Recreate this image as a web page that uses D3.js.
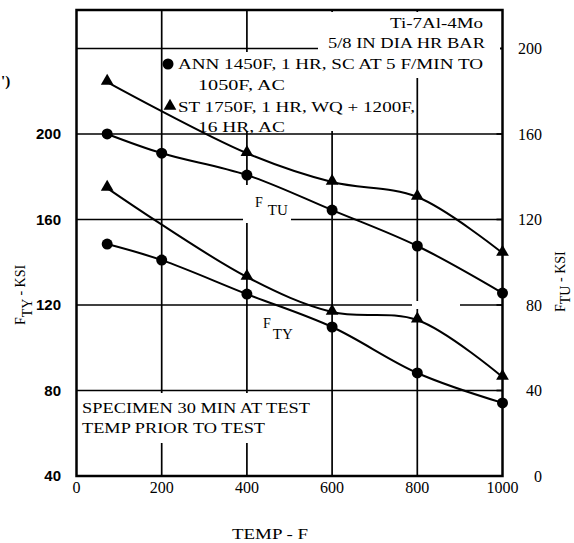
<!DOCTYPE html>
<html><head><meta charset="utf-8">
<script src="https://cdn.jsdelivr.net/npm/d3@7"></script>
<style>body{margin:0;background:#fff}svg{display:block}</style>
</head><body>
<svg id="c" width="574" height="543"></svg>
<script>
// ---- data ----
const annTemps = [72, 200, 400, 600, 800, 1000];
const stTemps  = [72, 400, 600, 800, 1000];
// F_TU curves are read on the right axis (ksi)
const ftuAnn = [160, 151, 140.8, 124.4, 107.6, 85.6];
const ftuSt  = [184.3, 151, 137.5, 130.5, 104.3];
// F_TY curves are read on the left axis (ksi)
const ftyAnn = [148.5, 141, 125.1, 109.7, 88.2, 74.2];
const ftySt  = [174.7, 133.1, 116.7, 113, 86.3];
const xTicks = [0, 200, 400, 600, 800, 1000];
const leftTicks = [40, 80, 120, 160, 200];
const rightTicks = [0, 40, 80, 120, 160, 200];
const hGrid = [80, 120, 160, 200, 240];
const vGrid = [200, 400, 600, 800];

const svg = d3.select('#c');
const x = d3.scaleLinear().domain([0, 1000]).range([76.5, 502.5]);
const yL = d3.scaleLinear().domain([40, 258]).range([476, 10]);
const yR = d3.scaleLinear().domain([0, 218]).range([476, 10]);
const serif = "'Liberation Serif','DejaVu Serif',serif";
const sans = "'Liberation Sans',Arial,sans-serif";

// grid
const g = svg.append('g').attr('stroke', '#000').attr('stroke-width', 1.7);
g.selectAll('.h').data(hGrid).join('line')
  .attr('x1', x(0)).attr('x2', x(1000)).attr('y1', d => yL(d)).attr('y2', d => yL(d));
g.selectAll('.v').data(vGrid).join('line')
  .attr('y1', yL(40)).attr('y2', yL(258)).attr('x1', d => x(d)).attr('x2', d => x(d));
// right axis ticks (inward)
g.selectAll('.rt').data(rightTicks).join('line')
  .attr('x1', x(1000) - 6).attr('x2', x(1000)).attr('y1', d => yR(d)).attr('y2', d => yR(d));

// white cut-outs where the original grid is interrupted by text
const cut = svg.append('g').attr('fill', '#fff');
[[318, 12, 182, 66], [172, 52, 242, 79], [79, 393, 236, 50], [243, 185, 48, 38], [412, 301, 48, 8]]
  .forEach(r => cut.append('rect').attr('x', r[0]).attr('y', r[1]).attr('width', r[2]).attr('height', r[3]));

// texts
function txt(xp, yp, s, len, opt = {}) {
  const t = svg.append('text').attr('x', xp).attr('y', yp).text(s)
    .attr('font-family', opt.font || serif).attr('font-size', opt.size || 15)
    .attr('fill', '#000');
  if (len) t.attr('textLength', len).attr('lengthAdjust', 'spacingAndGlyphs');
  if (opt.anchor) t.attr('text-anchor', opt.anchor);
  if (opt.weight) t.attr('font-weight', opt.weight);
  return t;
}
txt(390, 28, 'Ti-7Al-4Mo', 93);
txt(328, 48, '5/8 IN DIA HR BAR', 157);
txt(178, 69, 'ANN 1450F, 1 HR, SC AT 5 F/MIN TO', 305);
txt(198, 90, '1050F, AC', 87);
txt(178, 112, 'ST 1750F, 1 HR, WQ + 1200F,', 237);
txt(198, 132, '16 HR, AC', 87);
txt(82, 413, 'SPECIMEN 30 MIN AT TEST', 228);
txt(82, 433, 'TEMP PRIOR TO TEST', 183);
txt(232, 539, 'TEMP - F', 76);
txt(1, 86, "')", null, {size: 15, weight: 'bold'});

// curve labels
const ftuL = svg.append('text').attr('x', 255).attr('y', 207).attr('font-family', serif).attr('font-size', 14);
ftuL.append('tspan').text('F');
ftuL.append('tspan').attr('dx', 5).attr('dy', 8).attr('font-size', 15).text('TU');
const ftyL = svg.append('text').attr('x', 263).attr('y', 328).attr('font-family', serif).attr('font-size', 14);
ftyL.append('tspan').text('F');
ftyL.append('tspan').attr('dx', 2).attr('dy', 11).attr('font-size', 15).text('TY');

// axis titles
const lt = svg.append('text').attr('transform', 'translate(25,325) rotate(-90)')
  .attr('font-family', serif).attr('font-size', 14);
lt.append('tspan').text('F');
lt.append('tspan').attr('dy', 7).text('TY');
lt.append('tspan').attr('dy', -7).text(' - KSI');
const rt = svg.append('text').attr('transform', 'translate(565,312) rotate(-90)')
  .attr('font-family', serif).attr('font-size', 14);
rt.append('tspan').text('F');
rt.append('tspan').attr('dy', 5).text('TU');
rt.append('tspan').attr('dy', -5).text(' - KSI');

// tick labels
svg.append('g').selectAll('text').data(leftTicks).join('text')
  .attr('x', 61).attr('y', d => yL(d)).attr('dy', '0.35em').attr('text-anchor', 'end')
  .attr('font-family', sans).attr('font-size', 15).attr('font-weight', 'bold').text(d => d);
svg.append('g').selectAll('text').data(rightTicks).join('text')
  .attr('x', 542).attr('y', d => yR(d)).attr('dy', '0.35em').attr('text-anchor', 'end')
  .attr('font-family', serif).attr('font-size', 16).text(d => d);
svg.append('g').selectAll('text').data(xTicks).join('text')
  .attr('x', d => x(d)).attr('y', 493).attr('text-anchor', 'middle')
  .attr('font-family', serif).attr('font-size', 16).text(d => d);

// curves
const lineR = d3.line().x(d => x(d[0])).y(d => yR(d[1])).curve(d3.curveCatmullRom.alpha(0.5));
const lineL = d3.line().x(d => x(d[0])).y(d => yL(d[1])).curve(d3.curveCatmullRom.alpha(0.5));
const series = [
  {t: annTemps, v: ftuAnn, line: lineR, y: yR, m: 'c'},
  {t: stTemps, v: ftuSt, line: lineR, y: yR, m: 't'},
  {t: annTemps, v: ftyAnn, line: lineL, y: yL, m: 'c'},
  {t: stTemps, v: ftySt, line: lineL, y: yL, m: 't'}
];
const tri = d3.symbol().type(d3.symbolTriangle).size(70);
series.forEach(s => {
  const pts = s.t.map((t, i) => [t, s.v[i]]);
  svg.append('path').attr('d', s.line(pts)).attr('fill', 'none').attr('stroke', '#000').attr('stroke-width', 2);
  pts.forEach(p => {
    if (s.m === 'c') svg.append('circle').attr('cx', x(p[0])).attr('cy', s.y(p[1])).attr('r', 5.5).attr('fill', '#000');
    else svg.append('path').attr('d', tri()).attr('transform', `translate(${x(p[0])},${s.y(p[1]) - 1})`).attr('fill', '#000');
  });
});
// legend markers
svg.append('circle').attr('cx', 168).attr('cy', 64).attr('r', 5.5).attr('fill', '#000');
svg.append('path').attr('d', tri()).attr('transform', 'translate(170,106)').attr('fill', '#000');

// frame
svg.append('rect').attr('x', x(0)).attr('y', yL(258)).attr('width', x(1000) - x(0)).attr('height', yL(40) - yL(258))
  .attr('fill', 'none').attr('stroke', '#000').attr('stroke-width', 2.5);
</script>
</body></html>
